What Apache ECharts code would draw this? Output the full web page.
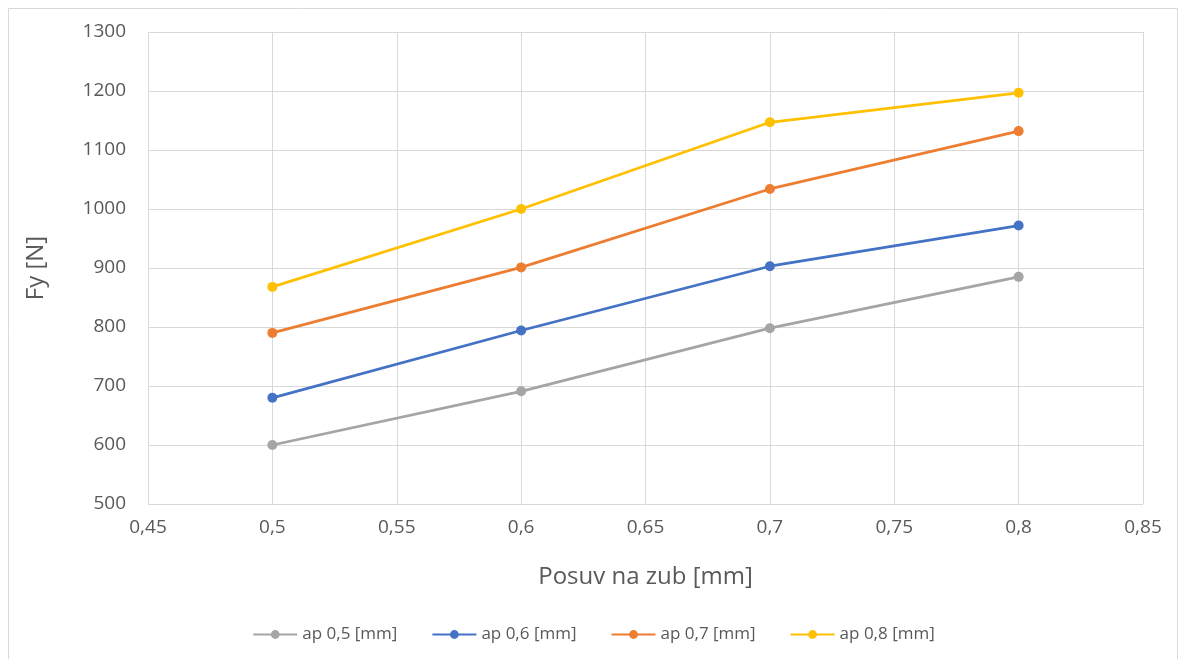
<!DOCTYPE html>
<html>
<head>
<meta charset="utf-8">
<script src="https://cdn.jsdelivr.net/npm/echarts@6/dist/echarts.min.js"></script>
<style>
  html, body { margin: 0; padding: 0; background: #fff; }
  #chart { width: 1187px; height: 659px; }
</style>
</head>
<body>
<div id="chart"></div>
<script>
var xValues = [0.5, 0.6, 0.7, 0.8];
var ap05 = [600, 691, 798, 885];
var ap06 = [680, 794, 903, 972];
var ap07 = [790, 901, 1034, 1132];
var ap08 = [868, 1000, 1147, 1197];
var seriesNames = ['ap 0,5 [mm]', 'ap 0,6 [mm]', 'ap 0,7 [mm]', 'ap 0,8 [mm]'];
var colors = ['#a5a5a5', '#4472c4', '#ed7d31', '#ffc000'];

function pairs(ys) {
    return xValues.map(function (x, i) { return [x, ys[i]]; });
}
function commaNum(v) {
    return String(Math.round(v * 100) / 100).replace('.', ',');
}

var font = '"Open Sans", "Noto Sans", sans-serif';
var myChart = echarts.init(document.getElementById('chart'));
var allData = [ap05, ap06, ap07, ap08];
var series = allData.map(function (d, i) {
    return {
        name: seriesNames[i],
        type: 'line',
        data: pairs(d),
        symbol: 'circle',
        symbolSize: 10,
        lineStyle: { width: 2.75, color: colors[i] },
        itemStyle: { color: colors[i] }
    };
});
var option = {
    color: colors,
    animation: false,
    graphic: [{
        type: 'rect',
        shape: { x: 8.5, y: 8.5, width: 1169, height: 660 },
        style: { fill: 'none', stroke: '#d9d9d9', lineWidth: 1 },
        silent: true
    }],
    grid: {
        left: 148,
        right: 44,
        top: 32,
        bottom: 155
    },
    legend: {
        bottom: 11,
        left: 'center',
        itemWidth: 44,
        itemHeight: 11,
        itemGap: 34,
        textStyle: { color: '#595959', fontSize: 17, fontFamily: font },
        data: seriesNames
    },
    xAxis: {
        type: 'value',
        min: 0.45,
        max: 0.85,
        interval: 0.05,
        name: 'Posuv na zub [mm]',
        nameLocation: 'middle',
        nameGap: 61,
        nameTextStyle: { color: '#595959', fontSize: 24, fontFamily: font },
        axisLine: { show: false },
        axisTick: { show: false },
        axisLabel: {
            color: '#595959',
            fontSize: 19,
            fontFamily: font,
            margin: 14,
            formatter: commaNum
        },
        splitLine: { show: true, lineStyle: { color: '#d9d9d9', width: 1 } }
    },
    yAxis: {
        type: 'value',
        min: 500,
        max: 1300,
        interval: 100,
        name: 'Fy [N]',
        nameLocation: 'middle',
        nameGap: 100,
        nameTextStyle: { color: '#595959', fontSize: 24, fontFamily: font },
        axisLine: { show: false },
        axisTick: { show: false },
        axisLabel: {
            color: '#595959',
            fontSize: 19,
            fontFamily: font,
            margin: 22,
            formatter: function (v) { return String(v); }
        },
        splitLine: { show: true, lineStyle: { color: '#d9d9d9', width: 1 } }
    },
    series: series
};
myChart.setOption(option);
</script>
</body>
</html>
